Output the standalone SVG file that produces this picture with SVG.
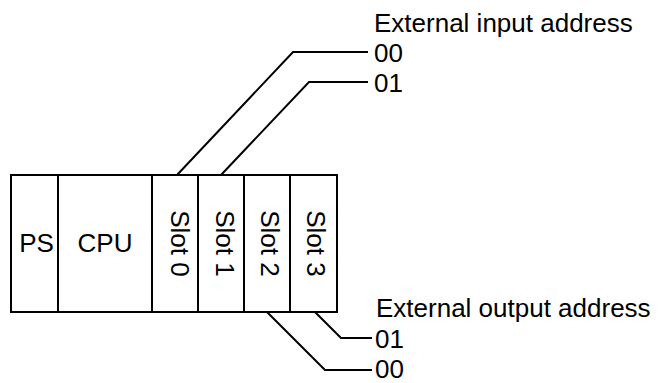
<svg xmlns="http://www.w3.org/2000/svg" width="659" height="383" viewBox="0 0 659 383">
<style>
.box{fill:#fff;stroke:#000;stroke-width:2}
.ln{fill:none;stroke:#000;stroke-width:2}
text{font-family:"Liberation Sans",Arial,sans-serif;font-size:26px;fill:#000}
.c{text-anchor:middle}
</style>
<rect width="659" height="383" fill="#fff"/>
<g id="connectors">
<polyline class="ln" points="177,175 293,52 368,52"/>
<polyline class="ln" points="221,175 309,82 368,82"/>
<polyline class="ln" points="267,312 325,370 372,370"/>
<polyline class="ln" points="315,312 341,338 372,338"/>
</g>
<g id="ps"><rect class="box" x="11" y="175" width="47" height="137"/><text class="c" x="36.5" y="252">PS</text></g>
<g id="cpu"><rect class="box" x="58" y="175" width="94" height="137"/><text class="c" x="105" y="252">CPU</text></g>
<g id="slot0"><rect class="box" x="152" y="175" width="46" height="137"/><text class="c" transform="translate(170.5,243.5) rotate(90)">Slot 0</text></g>
<g id="slot1"><rect class="box" x="198" y="175" width="46" height="137"/><text class="c" transform="translate(215.5,243.5) rotate(90)">Slot 1</text></g>
<g id="slot2"><rect class="box" x="244" y="175" width="46" height="137"/><text class="c" transform="translate(261,243.5) rotate(90)">Slot 2</text></g>
<g id="slot3"><rect class="box" x="290" y="175" width="47" height="137"/><text class="c" transform="translate(306.5,243.5) rotate(90)">Slot 3</text></g>
<g id="input-labels">
<text x="374" y="32">External input address</text>
<text x="374" y="62">00</text>
<text x="374" y="92">01</text>
</g>
<g id="output-labels">
<text x="376" y="317">External output address</text>
<text x="375" y="348">01</text>
<text x="375" y="378">00</text>
</g>
</svg>
